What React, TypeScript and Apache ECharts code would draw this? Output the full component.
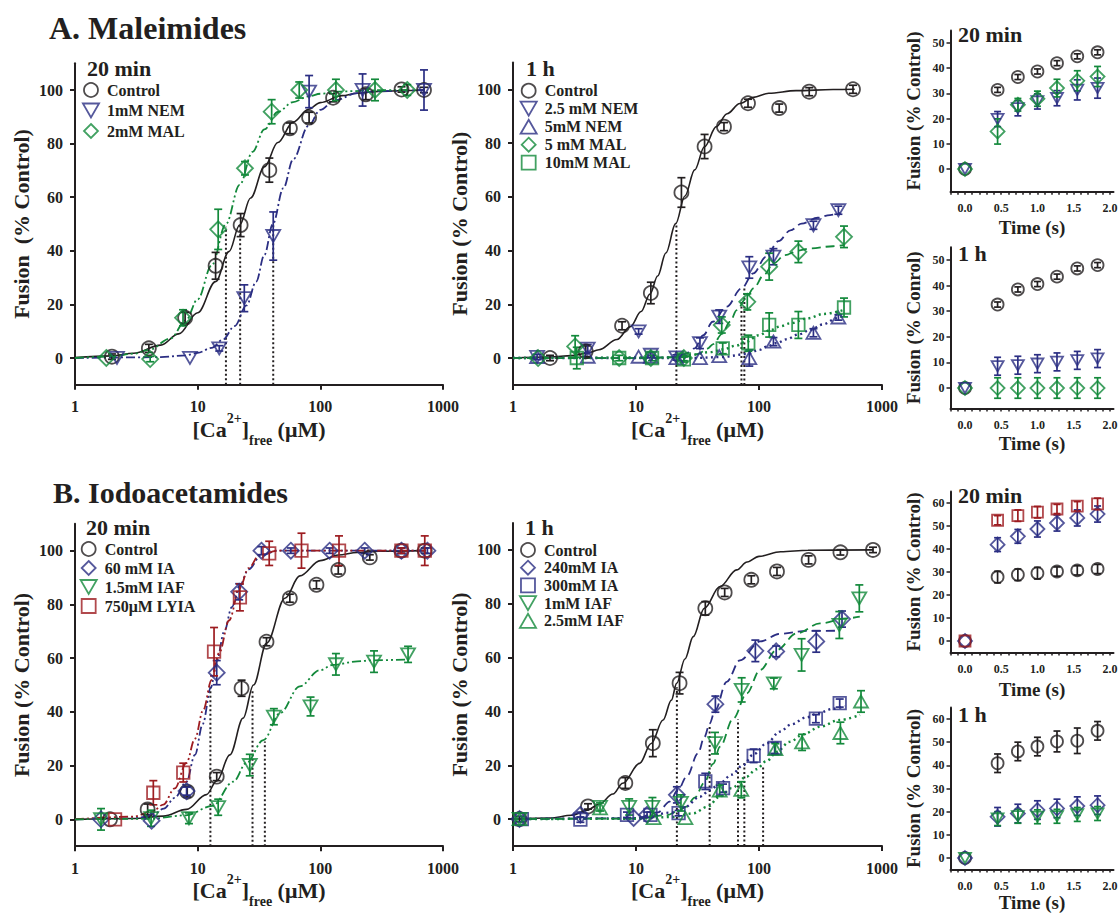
import React, { useEffect, useRef } from 'react';
import * as echarts from 'echarts';

const INK = '#231f20';
const BLUE = '#2b2e83';
const GREEN = '#13893b';
const RED = '#9d1c20';
const SERIF = '"Liberation Serif", "Times New Roman", serif';

const SYM_CIRCLE = 'circle';
const SYM_DOWN = 'path://M0,0L12,0L6,10.4Z';
const SYM_UP = 'path://M6,0L12,10.4L0,10.4Z';
const SYM_DIAMOND = 'path://M6,0L12,6L6,12L0,6Z';
const SYM_SQUARE = 'path://M0,0L10,0L10,10L0,10Z';

const SOLID = 'solid';
const DASH_DOT = [9, 3, 2, 3];
const DASH_DOT_DOT = [9, 3, 2, 3, 2, 3];
const DASHED = [9, 5];
const DOTTED = [2, 3.5];

// ---------- tick labels ----------
const bigYTicks = [0, 20, 40, 60, 80, 100];
const smallATicks = [0, 10, 20, 30, 40, 50];
const smallBTicks = [0, 10, 20, 30, 40, 50, 60];
const timeLabels = [0, 0.5, 1, 1.5, 2];
const timeTicks = [-0.2, -0.1, 0, 0.1, 0.2, 0.3, 0.4, 0.5, 0.6, 0.7, 0.8, 0.9, 1, 1.1, 1.2, 1.3, 1.4, 1.5, 1.6, 1.7, 1.8, 1.9, 2];

// ---------- A1: Maleimides 20 min  [Ca, fusion, sem] ----------
const a1Control = [[2.0, 0.5, 1], [4.0, 3.6, 1.5], [7.9, 15, 2], [14, 34.4, 5], [22.4, 49.6, 4.3], [38.4, 70.1, 4.5], [56.5, 85.7, 2], [81, 89.7, 2], [127, 97.1, 1.5], [235, 98.4, 2], [459, 100.2, 1], [700, 100, 1]];
const a1Nem1 = [[2.2, 0, 0], [8.65, 0, 0], [15, 3.6, 1], [24, 22.3, 5], [41.3, 45.5, 9], [81, 99.4, 6], [221, 100, 6], [700, 100, 7.5]];
const a1Mal2 = [[1.8, 0, 0], [4.1, -0.4, 1], [7.6, 15, 3], [14.7, 48, 7.5], [24.3, 70.8, 2.5], [40.1, 91.9, 4.5], [67.3, 100, 3], [134, 100, 4], [279, 100, 4], [511, 100, 2]];
const a1ControlFit = [[1, 0.2], [2, 0.8], [3, 1.8], [5, 4.8], [7, 9], [10, 16.9], [14, 28.5], [18, 39.7], [22, 49.6], [27, 59.7], [35, 71.3], [45, 80.4], [60, 88], [80, 92.8], [100, 95.3], [150, 97.9], [200, 98.8], [300, 99.5], [500, 99.8], [700, 100]];
const a1Nem1Fit = [[1, 0], [5, 0.3], [8, 1], [10, 1.9], [13, 3.8], [16, 6.8], [20, 11.9], [25, 19.6], [30, 28.5], [35, 38.5], [41, 50], [50, 63.4], [60, 74.1], [80, 86.6], [100, 92.6], [130, 96.1], [200, 98.8], [300, 99.6], [700, 100]];
const a1Mal2Fit = [[1, 0], [2, 0.6], [3, 1.6], [4, 3], [6, 7.3], [8, 14], [10, 21.9], [13, 34.5], [17, 50], [22, 64.6], [28, 76.9], [35, 85.3], [45, 91.8], [60, 95.5], [80, 97.6], [100, 98.6], [150, 99.5], [300, 99.9], [511, 100]];
const a1Half = [[17, 49], [22.2, 50], [41.3, 50]];

// ---------- A2: Maleimides 1 h ----------
const a2Control = [[2.0, 0, 1], [3.9, 2.5, 2], [7.7, 12, 1.5], [13.2, 24.2, 4], [23.4, 61.6, 5.5], [36.1, 78.7, 4.5], [51.9, 86.1, 1.5], [81.4, 94.8, 1.5], [146, 93, 1.5], [256, 99.1, 1.5], [581, 100, 1.5]];
const a2Nem25 = [[1.57, 0.4, 1], [4.05, 3.5, 1.5], [10.5, 9.9, 1], [13.2, 1.2, 1], [21.3, 0.2, 1], [33.1, 5.5, 2], [47.5, 15.4, 2.5], [83.4, 33.7, 4], [131, 37.7, 3], [277, 49.4, 1.5], [442, 55, 1.5]];
const a2Nem5 = [[1.57, 0.4, 0], [4.05, 0.5, 0], [10.5, 0.5, 0], [13.2, 0.5, 0], [21.3, 0, 0], [33.1, 0, 0], [47.5, 0.7, 0], [83.4, 0, 3], [131, 6.1, 1.5], [277, 9.4, 1.5], [442, 15.1, 1]];
const a2Mal5 = [[1.6, 0, 0], [3.2, 4.3, 4], [7.3, 0, 0], [13.2, 0, 0], [24.5, 0, 1], [49.8, 12.3, 3], [80.3, 20.9, 3], [121, 34, 5], [209, 39.5, 4], [491, 45.1, 4]];
const a2Mal10 = [[3.3, 0, 4], [7.3, 0, 1], [13.5, 0, 1], [24.5, -0.5, 1], [50.7, 3.6, 2], [81.8, 5.5, 3], [121, 12.3, 4.5], [209, 12.3, 5], [491, 18.8, 3.5]];
const a2ControlFit = [[1, 0], [2, 0.4], [3, 0.9], [4, 1.8], [5, 3.1], [7, 6.9], [9, 11.7], [11, 17.3], [13, 23.8], [15, 30.5], [17.5, 39.1], [21, 50], [25, 60.3], [30, 70], [36, 78.6], [45, 86.1], [55, 90.9], [70, 94.7], [90, 97], [120, 98.5], [200, 99.5], [400, 99.9], [600, 100]];
const a2Nem25Fit = [[1, 0], [10, 0], [20, 0.3], [25, 1.5], [30, 3.6], [35.3, 8.5], [42, 13.5], [54.6, 19.1], [72, 25.9], [90, 31.5], [114, 37.7], [144, 43.5], [180, 47.5], [222, 50], [300, 52.2], [378, 53.2], [460, 54]];
const a2Mal5Fit = [[1, 0], [10, 0], [25, 0.3], [32, 1.5], [38, 3.5], [42.5, 5.2], [50, 9], [58, 13.5], [66, 17.8], [78, 22], [90, 25.9], [110, 31], [131, 35.2], [163, 38.3], [210, 40], [260, 40.8], [400, 41.6], [491, 42]];
const a2Nem5Fit = [[1, 0], [30, 0], [50, 0.4], [80, 1.5], [100, 3], [115, 4.2], [140, 5.6], [168, 7], [210, 8.8], [260, 10.4], [330, 12.5], [428, 14.8], [460, 15.3]];
const a2Mal10Fit = [[1, 0], [20, 0.2], [27.5, 1.1], [40, 2.2], [51, 3.2], [65, 4.6], [79, 6.1], [100, 8.5], [123, 10.4], [150, 11.8], [179, 12.9], [250, 14.8], [333, 16.4], [484, 17.8]];
const a2Half = [[21.3, 50], [72, 21.5], [76, 26.5]];

// ---------- B1: Iodoacetamides 20 min ----------
const b1Control = [[1.93, 0, 0], [3.91, 3.7, 2], [8.22, 10.3, 2], [14.3, 15.9, 1.5], [22.8, 48.8, 3], [36.4, 66.1, 1.5], [56.4, 82.3, 1.5], [93, 87.3, 1.5], [140, 92.8, 1.5], [253, 97.5, 1], [458, 100, 1], [710, 100, 1]];
const b1Ia60 = [[1.63, 0, 0], [4.21, -0.5, 0], [8.12, 10.5, 1.5], [14.3, 54.6, 4.5], [21.8, 84.7, 3], [33.1, 100, 1.5], [57.5, 100, 1], [119, 100, 1], [230, 100, 1], [458, 100, 1], [746, 100, 1]];
const b1Iaf15 = [[1.63, 0, 4], [4.17, 0.4, 3], [8.49, 0.4, 2], [14.7, 4.5, 3], [26.6, 20.2, 4], [41.8, 38.2, 3], [83.2, 42, 3.5], [134, 57.7, 4], [274, 58.7, 4], [519, 61.4, 3]];
const b1Lyia = [[2.12, 0, 0], [4.35, 9.9, 4.5], [7.63, 17.4, 3.5], [13.6, 62.4, 9], [22.1, 82.6, 5], [38.3, 99, 4.5], [70.2, 100, 6.5], [142, 100, 5.5], [458, 100, 1], [710, 100, 5.5]];
const b1ControlFit = [[1, 0], [3, 0.3], [5.25, 1.2], [8.1, 3.7], [11.8, 9.2], [14.3, 14.3], [18.3, 24], [23.5, 37.7], [28.5, 50], [36.5, 65.6], [51.5, 82.3], [68, 90.6], [100, 96.3], [140, 98.4], [200, 99.3], [300, 99.8], [710, 100]];
const b1Ia60Fit = [[1, 0], [3, 0.4], [4.2, 1.2], [5.3, 4], [6.5, 8], [8.1, 14], [9.5, 24], [11, 35.5], [12.8, 49], [14.3, 59], [16.5, 70], [19, 79], [21.8, 86.6], [26, 93], [33, 98.3], [45, 100], [100, 100], [300, 100], [750, 100]];
const b1LyiaFit = [[1, 0], [3, 1], [4.3, 3], [5.25, 5.5], [6.5, 11.5], [8.1, 21], [9.5, 30], [11.1, 40.7], [13, 51.9], [15, 62], [18, 74], [22, 86], [26, 93.5], [32, 98.5], [45, 100], [100, 100], [300, 100], [710, 100]];
const b1Iaf15Fit = [[1, 0], [4, 0.2], [8, 1.5], [13.2, 5], [19.5, 14], [25, 21], [34.3, 29.5], [46.9, 39.5], [68, 49.5], [99, 55.5], [127, 57.5], [200, 58.8], [270, 59.2], [519, 59.5]];
const b1Half = [[12.7, 50], [28, 48], [35.3, 29]];

// ---------- B2: Iodoacetamides 1 h ----------
const b2Control = [[1.13, 0, 1], [4.07, 4.7, 1], [8.19, 13.4, 2], [13.7, 28.2, 5], [22.6, 50.5, 4], [36.6, 78.3, 2.5], [52.6, 84.2, 1.5], [86.6, 88.9, 1.5], [140, 92, 1.5], [253, 96.3, 1.5], [459, 99.1, 1], [845, 100, 1]];
const b2Ia240 = [[1.13, 0, 0], [3.53, 1.6, 1], [9.57, 0.4, 0], [12.3, 1.6, 1], [21.5, 9, 3], [44.2, 42.7, 3], [93.4, 62.5, 4], [138, 62.3, 2], [292, 66, 4], [473, 74.3, 3]];
const b2Ia300 = [[1.18, 0, 1], [3.53, -0.2, 1], [8.45, 1.6, 1], [13.1, 1.6, 1], [22.2, 2.2, 1], [36.6, 14, 3], [51, 11.5, 1.5], [90.5, 23.5, 2.5], [134, 26.4, 2], [290, 37.3, 1.5], [453, 43.1, 1.5]];
const b2Iaf1 = [[1.13, 0, 0], [5.1, 4.5, 1.5], [8.8, 4.5, 3], [13.6, 4.5, 3.5], [23.2, 6, 3], [43.9, 28.2, 4], [72.3, 48, 4.5], [132, 50.4, 2], [222, 61, 6], [450, 72.1, 5], [654, 82, 5]];
const b2Iaf25 = [[1.13, 0, 0], [5.1, 4, 0], [13.9, 0.4, 0], [25.2, 0.4, 0], [47.9, 10.6, 2], [71.8, 10.9, 3], [136, 26, 2], [224, 28.5, 3], [459, 32, 4], [675, 43.7, 4]];
const b2ControlFit = [[1, 0], [2, 0.4], [3, 1.4], [4, 3.3], [5, 5.5], [6.5, 9.3], [7.8, 13.3], [10.7, 20.7], [13.3, 28.1], [16.6, 36.8], [19.4, 44.2], [21.4, 50.4], [25, 59.5], [29.2, 67.8], [35.9, 78.3], [48.2, 86.4], [65.9, 92.6], [80, 95.5], [100, 97.6], [150, 99.3], [250, 99.9], [850, 100]];
const b2Ia240Fit = [[1, 0], [10, 0.3], [15, 2.5], [18.8, 6.5], [21.9, 10.8], [26, 16], [31.9, 24.4], [36, 30.5], [39.7, 35.5], [44, 40.5], [54.6, 51], [70, 59], [102, 66], [148, 68.8], [244, 69.9], [456, 70]];
const b2Iaf1Fit = [[1, 0], [10, 0.2], [18, 1.5], [22, 3], [25.7, 4.6], [30, 8], [36, 13.5], [42.3, 20.5], [48.2, 26.9], [61.8, 37.4], [79.4, 46.7], [102, 55.4], [139, 62.8], [203, 69], [313, 72.7], [516, 74.6], [660, 75.2]];
const b2Ia300Fit = [[1, 0], [10, 0.3], [20, 2.5], [25, 4.5], [33, 8.3], [40, 10.8], [47.9, 13.3], [60, 16.5], [74, 20], [90, 24], [115, 28.1], [148, 32.5], [183, 35.2], [244, 37.8], [300, 39.3], [402, 41], [500, 42]];
const b2Iaf25Fit = [[1, 0], [10, 0.1], [20, 0.8], [29, 2.1], [38, 4.5], [47.9, 8.3], [60, 11.5], [78.9, 15.7], [95, 18.5], [115, 21.5], [140, 25], [177, 28.7], [230, 31.5], [313, 34.3], [450, 36.8], [662, 38.7]];
const b2Half = [[21.5, 49], [39.7, 34.5], [67.5, 37], [76, 20.8], [108, 19.6]];

// ---------- time courses ----------
const times = [0, 0.45, 0.73, 1.0, 1.27, 1.55, 1.83];
const a3Control = [0, 31.4, 36.5, 38.7, 42, 44.7, 46.3];
const a3ControlErr = [0, 1, 1, 1, 1, 1, 1];
const a3Nem = [0, 19.8, 24.1, 26.8, 28.1, 31.4, 32.1];
const a3NemErr = [0, 3, 3, 3, 3, 4, 4];
const a3Mal = [0, 14.9, 25.5, 27.9, 32.1, 35, 36.7];
const a3MalErr = [0, 5, 2.5, 3, 3.5, 4, 4];
const a4Control = [0, 32.6, 38.5, 40.6, 43.5, 46.7, 48];
const a4ControlErr = [0, 1, 1, 1, 1, 1, 1];
const a4Nem = [0, 8.5, 8.9, 9.5, 10.2, 10.8, 11.5];
const a4NemErr = [0, 3.5, 3.5, 3.5, 3.5, 3.5, 3.5];
const a4Mal = [0, 0, 0, 0, 0, 0, 0];
const a4MalErr = [0, 4, 4, 4, 4, 4, 4];
const b3Control = [0, 27.8, 28.8, 29.5, 30.2, 30.7, 31.3];
const b3ControlErr = [0, 2.5, 2.5, 2.5, 2, 2, 2];
const b3Ia = [0, 41.9, 45.5, 48.7, 51.3, 53.5, 55.2];
const b3IaErr = [0, 3, 3, 3.5, 3.5, 3.5, 3.5];
const b3Lyia = [0, 52.5, 54.5, 56, 57.4, 58.6, 59.6];
const b3LyiaErr = [0, 2, 2.5, 2.5, 2, 2, 2.5];
const b4Control = [0, 40.9, 46, 48.1, 50.3, 50.6, 54.9];
const b4ControlErr = [0, 4, 4, 4, 4.5, 5.5, 4];
const b4Ia = [0, 17.8, 19.2, 20.7, 21.4, 22.4, 22.8];
const b4IaErr = [0, 4, 4, 4, 4, 4, 4];
const b4Iaf = [0, 17, 18, 17.8, 18, 18.8, 19.2];
const b4IafErr = [0, 3, 3, 3, 3, 3, 3];

// ---------- helpers ----------
const tickFont = (size: number) => ({ fontFamily: SERIF, fontWeight: 'bold', fontSize: size, color: INK });
const CA_NAME = '{m|[Ca}{sup|2+}{m|]}{sub|free}{m| (μM)}';
const CA_RICH = {
  m: { fontFamily: SERIF, fontWeight: 'bold', fontSize: 22, lineHeight: 36, color: INK, verticalAlign: 'middle' },
  sup: { fontFamily: SERIF, fontWeight: 'bold', fontSize: 14, lineHeight: 17, color: INK, verticalAlign: 'top' },
  sub: { fontFamily: SERIF, fontWeight: 'bold', fontSize: 14, lineHeight: 14, color: INK, verticalAlign: 'bottom' },
};

function bigX(gi: number, nameGap: number) {
  return {
    type: 'log', gridIndex: gi, logBase: 10, min: 1, max: 1000,
    axisLine: { show: true, onZero: false, lineStyle: { color: INK, width: 2 } },
    axisTick: { show: true, length: 5, lineStyle: { color: INK, width: 2 } },
    axisLabel: { show: true, margin: 14, formatter: (v: number) => String(Math.round(v)), ...tickFont(16) },
    splitLine: { show: false }, minorTick: { show: false }, minorSplitLine: { show: false },
    name: CA_NAME, nameLocation: 'middle', nameGap, nameMoveOverlap: false, nameTextStyle: { rich: CA_RICH },
  };
}
function bigY(gi: number, name: string) {
  return {
    type: 'value', gridIndex: gi, min: -10, max: 110,
    axisLine: { show: true, onZero: false, lineStyle: { color: INK, width: 2 } },
    axisTick: { show: true, length: 5, customValues: bigYTicks, lineStyle: { color: INK, width: 2 } },
    axisLabel: { show: true, margin: 12, customValues: bigYTicks, formatter: (v: number) => (v >= 0 && v <= 100 && v % 20 === 0 ? String(v) : ''), ...tickFont(16) },
    splitLine: { show: false },
    name, nameLocation: 'middle', nameGap: 43, nameMoveOverlap: false,
    nameTextStyle: { fontFamily: SERIF, fontWeight: 'bold', fontSize: 22, color: INK },
  };
}
function smallX(gi: number, nameGap: number) {
  return {
    type: 'value', gridIndex: gi, min: -0.2, max: 2.05,
    axisLine: { show: true, onZero: false, lineStyle: { color: INK, width: 2 } },
    axisTick: { show: true, length: 3, customValues: timeTicks, lineStyle: { color: INK, width: 1.5 } },
    axisLabel: { show: true, margin: 10, customValues: timeLabels, formatter: (v: number) => v.toFixed(1), ...tickFont(12), lineHeight: 12 },
    splitLine: { show: false },
    name: 'Time (s)', nameLocation: 'middle', nameGap, nameMoveOverlap: false,
    nameTextStyle: { fontFamily: SERIF, fontWeight: 'bold', fontSize: 19, lineHeight: 19, color: INK },
  };
}
function smallY(gi: number, min: number, max: number, ticks: number[], name: string) {
  return {
    type: 'value', gridIndex: gi, min, max,
    axisLine: { show: true, onZero: false, lineStyle: { color: INK, width: 2 } },
    axisTick: { show: true, length: 4, customValues: ticks, lineStyle: { color: INK, width: 1.5 } },
    axisLabel: { show: true, margin: 6, customValues: ticks, formatter: (v: number) => (v >= 0 && v % 10 === 0 ? String(v) : ''), ...tickFont(12) },
    splitLine: { show: false },
    name, nameLocation: 'middle', nameGap: 28, nameMoveOverlap: false,
    nameTextStyle: { fontFamily: SERIF, fontWeight: 'bold', fontSize: 19, color: INK },
  };
}

const series: any[] = [];

function addFit(gi: number, data: number[][], color: string, dash: any, width: number) {
  series.push({
    type: 'line', name: 'fit' + series.length, xAxisIndex: gi, yAxisIndex: gi, data,
    smooth: 0.35, smoothMonotone: 'x', showSymbol: false, symbol: 'none', silent: true, z: 2,
    lineStyle: { color, width, type: dash },
  });
}
function addHalf(gi: number, marks: number[][], yMin: number) {
  marks.forEach((m) => {
    series.push({
      type: 'line', name: 'half' + series.length, xAxisIndex: gi, yAxisIndex: gi,
      data: [[m[0], yMin], [m[0], m[1]]], showSymbol: false, symbol: 'none', silent: true, z: 1,
      lineStyle: { color: INK, width: 2, type: [2, 2.5] },
    });
  });
}
function addSet(gi: number, name: string, pts: number[][], sym: string, color: string, size: number, cap: number) {
  series.push({
    type: 'custom', name: 'err' + series.length, xAxisIndex: gi, yAxisIndex: gi, silent: true, z: 3,
    data: pts.filter((p) => p[2] > 0).map((p) => [p[0], p[1] - p[2], p[1] + p[2]]),
    encode: { x: 0, y: [1, 2] },
    renderItem: (params: any, api: any) => {
      const lo = api.coord([api.value(0), api.value(1)]);
      const hi = api.coord([api.value(0), api.value(2)]);
      const st = { stroke: color, lineWidth: 1.7, fill: null };
      return {
        type: 'group',
        children: [
          { type: 'line', shape: { x1: lo[0], y1: lo[1], x2: hi[0], y2: hi[1] }, style: st },
          { type: 'line', shape: { x1: lo[0] - cap, y1: lo[1], x2: lo[0] + cap, y2: lo[1] }, style: st },
          { type: 'line', shape: { x1: hi[0] - cap, y1: hi[1], x2: hi[0] + cap, y2: hi[1] }, style: st },
        ],
      };
    },
  });
  series.push({
    type: 'scatter', name, xAxisIndex: gi, yAxisIndex: gi, z: 4,
    data: pts.map((p) => [p[0], p[1]]), symbol: sym, symbolSize: size, symbolKeepAspect: true,
    itemStyle: { color: 'rgba(255,255,255,0)', borderColor: color, borderWidth: 1.8 },
  });
}
function timeSet(ys: number[], errs: number[]) {
  return times.map((t, i) => [t, ys[i], errs[i]]);
}

// A1
addHalf(0, a1Half, -10);
addFit(0, a1ControlFit, INK, SOLID, 1.6);
addFit(0, a1Nem1Fit, BLUE, DASH_DOT, 1.8);
addFit(0, a1Mal2Fit, GREEN, DASH_DOT_DOT, 1.8);
addSet(0, 'Control', a1Control, SYM_CIRCLE, INK, 14, 4);
addSet(0, '1mM NEM', a1Nem1, SYM_DOWN, BLUE, 14, 4);
addSet(0, '2mM MAL', a1Mal2, SYM_DIAMOND, GREEN, 16, 4);
// A2
addHalf(1, a2Half, -10);
addFit(1, a2ControlFit, INK, SOLID, 1.6);
addFit(1, a2Nem25Fit, BLUE, DASHED, 1.8);
addFit(1, a2Mal5Fit, GREEN, DASHED, 1.8);
addFit(1, a2Nem5Fit, BLUE, DOTTED, 2.4);
addFit(1, a2Mal10Fit, GREEN, DOTTED, 2.4);
addSet(1, 'Control', a2Control, SYM_CIRCLE, INK, 14, 4);
addSet(1, '2.5 mM NEM', a2Nem25, SYM_DOWN, BLUE, 14, 4);
addSet(1, '5mM NEM', a2Nem5, SYM_UP, BLUE, 14, 4);
addSet(1, '5 mM MAL', a2Mal5, SYM_DIAMOND, GREEN, 16, 4);
addSet(1, '10mM MAL', a2Mal10, SYM_SQUARE, GREEN, 12.5, 4);
// A3
addSet(2, 'a3c', timeSet(a3Control, a3ControlErr), SYM_CIRCLE, INK, 12, 3.5);
addSet(2, 'a3n', timeSet(a3Nem, a3NemErr), SYM_DOWN, BLUE, 12, 3.5);
addSet(2, 'a3m', timeSet(a3Mal, a3MalErr), SYM_DIAMOND, GREEN, 14, 3.5);
// A4
addSet(3, 'a4c', timeSet(a4Control, a4ControlErr), SYM_CIRCLE, INK, 12, 3.5);
addSet(3, 'a4m', timeSet(a4Mal, a4MalErr), SYM_DIAMOND, GREEN, 14, 3.5);
addSet(3, 'a4n', timeSet(a4Nem, a4NemErr), SYM_DOWN, BLUE, 12, 3.5);
// B1
addHalf(4, b1Half, -10);
addFit(4, b1ControlFit, INK, SOLID, 1.6);
addFit(4, b1Ia60Fit, BLUE, DASH_DOT_DOT, 1.8);
addFit(4, b1LyiaFit, RED, DASH_DOT_DOT, 1.8);
addFit(4, b1Iaf15Fit, GREEN, DASH_DOT_DOT, 1.8);
addSet(4, 'Control', b1Control, SYM_CIRCLE, INK, 14, 4);
addSet(4, '60 mM IA', b1Ia60, SYM_DIAMOND, BLUE, 16, 4);
addSet(4, '1.5mM IAF', b1Iaf15, SYM_DOWN, GREEN, 14, 4);
addSet(4, '750μM LYIA', b1Lyia, SYM_SQUARE, RED, 12.5, 4);
// B2
addHalf(5, b2Half, -10);
addFit(5, b2ControlFit, INK, SOLID, 1.6);
addFit(5, b2Ia240Fit, BLUE, DASHED, 1.8);
addFit(5, b2Iaf1Fit, GREEN, DASHED, 1.8);
addFit(5, b2Ia300Fit, BLUE, DOTTED, 2.4);
addFit(5, b2Iaf25Fit, GREEN, DOTTED, 2.4);
addSet(5, 'Control', b2Control, SYM_CIRCLE, INK, 14, 4);
addSet(5, '240mM IA', b2Ia240, SYM_DIAMOND, BLUE, 16, 4);
addSet(5, '300mM IA', b2Ia300, SYM_SQUARE, BLUE, 12.5, 4);
addSet(5, '1mM IAF', b2Iaf1, SYM_DOWN, GREEN, 14, 4);
addSet(5, '2.5mM IAF', b2Iaf25, SYM_UP, GREEN, 14, 4);
// B3
addSet(6, 'b3c', timeSet(b3Control, b3ControlErr), SYM_CIRCLE, INK, 12, 3.5);
addSet(6, 'b3i', timeSet(b3Ia, b3IaErr), SYM_DIAMOND, BLUE, 14, 3.5);
addSet(6, 'b3l', timeSet(b3Lyia, b3LyiaErr), SYM_SQUARE, RED, 11, 3.5);
// B4
addSet(7, 'b4c', timeSet(b4Control, b4ControlErr), SYM_CIRCLE, INK, 12, 3.5);
addSet(7, 'b4i', timeSet(b4Ia, b4IaErr), SYM_DIAMOND, BLUE, 14, 3.5);
addSet(7, 'b4f', timeSet(b4Iaf, b4IafErr), SYM_DOWN, GREEN, 12, 3.5);

function legend(names: string[], left: number, top: number, gap: number) {
  return {
    show: true, orient: 'vertical', left, top, itemGap: gap, itemWidth: 22, itemHeight: 14,
    padding: 0, selectedMode: false, data: names,
    itemStyle: { borderWidth: 1.8 },
    textStyle: { fontFamily: SERIF, fontWeight: 'bold', fontSize: 16, lineHeight: 16, color: INK },
  };
}
function label(text: string, x: number, y: number, size: number) {
  return { type: 'text', x, y, silent: true, style: { text, font: `bold ${size}px ${SERIF}`, fill: INK, verticalAlign: 'middle', align: 'left' } };
}

const option: any = {
  animation: false,
  backgroundColor: '#ffffff',
  textStyle: { fontFamily: SERIF },
  grid: [
    { left: 75, top: 63.2, width: 368, height: 321.6, outerBoundsMode: 'none' },
    { left: 513, top: 62.4, width: 369, height: 322.5, outerBoundsMode: 'none' },
    { left: 950.5, top: 30.4, width: 163, height: 161.3, outerBoundsMode: 'none' },
    { left: 950.5, top: 247.2, width: 163, height: 161.3, outerBoundsMode: 'none' },
    { left: 75, top: 523.8, width: 368, height: 322.4, outerBoundsMode: 'none' },
    { left: 513, top: 523, width: 369, height: 323, outerBoundsMode: 'none' },
    { left: 950.5, top: 491.5, width: 163, height: 161, outerBoundsMode: 'none' },
    { left: 950.5, top: 707.4, width: 163, height: 162.2, outerBoundsMode: 'none' },
  ],
  xAxis: [bigX(0, 27), bigX(1, 27), smallX(2, 26), smallX(3, 25), bigX(4, 26), bigX(5, 26), smallX(6, 27), smallX(7, 23)],
  yAxis: [
    bigY(0, 'Fusion  (% Control)'),
    bigY(1, 'Fusion (% Control)'),
    smallY(2, -9, 55, smallATicks, 'Fusion (% Control)'),
    smallY(3, -8, 55, smallATicks, 'Fusion (% Conrol)'),
    bigY(4, 'Fusion (% Control)'),
    bigY(5, 'Fusion (% Control)'),
    smallY(6, -5, 65, smallBTicks, 'Fusion (% Control)'),
    smallY(7, -5, 65, smallBTicks, 'Fusion (% Control)'),
  ],
  legend: [
    legend(['Control', '1mM NEM', '2mM MAL'], 82, 82, 4.5),
    legend(['Control', '2.5 mM NEM', '5mM NEM', '5 mM MAL', '10mM MAL'], 519.7, 82.7, 2),
    legend(['Control', '60 mM IA', '1.5mM IAF', '750μM LYIA'], 79.7, 541, 3),
    legend(['Control', '240mM IA', '300mM IA', '1mM IAF', '2.5mM IAF'], 519, 542, 1.7),
  ],
  graphic: [
    label('A. Maleimides', 49, 27.5, 32),
    label('B. Iodoacetamides', 53, 492.5, 30),
    label('20 min', 87, 68.5, 22),
    label('1 h', 526, 68, 22),
    label('20 min', 958, 34.5, 22),
    label('1 h', 958, 253, 22),
    label('20 min', 86, 527.5, 22),
    label('1 h', 525, 527.5, 22),
    label('20 min', 958, 495, 22),
    label('1 h', 958, 714, 22),
  ],
  series,
};

export default function App() {
  const ref = useRef<HTMLDivElement>(null);
  useEffect(() => {
    if (!ref.current) return;
    const chart = echarts.init(ref.current, null, { renderer: 'svg' });
    chart.setOption(option);
    return () => chart.dispose();
  }, []);
  return <div ref={ref} style={{ position: 'absolute', left: 0, top: 0, width: 1120, height: 913, background: '#fff' }} />;
}
